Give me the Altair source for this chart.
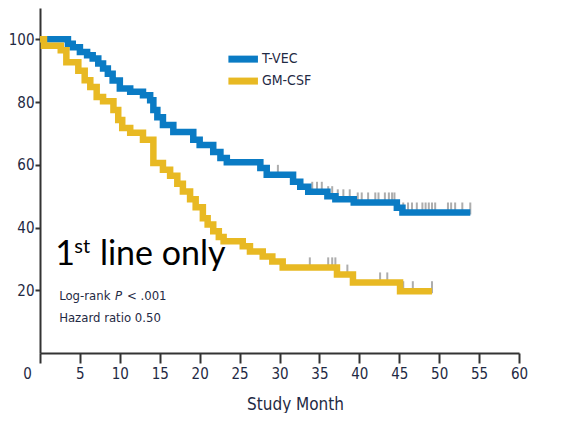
import altair as alt
import pandas as pd

# ---- data ----
series_names = ["T-VEC", "GM-CSF"]
series_colors = ["#0a7bc4", "#e8b923"]

tvec_month = [0, 3.5, 4.1, 5.0, 5.9, 6.6, 7.3, 7.9, 8.5, 9.1, 10.0, 11.3, 12.9, 13.8, 14.2,
              14.7, 15.4, 16.7, 19.2, 20.0, 21.7, 22.6, 23.4, 27.6, 28.4, 31.7, 32.6, 33.6,
              36.0, 37.0, 39.3, 44.7, 45.4, 53.9]
tvec_surv = [100, 98.6, 97.5, 96, 94.9, 93.9, 92.3, 90.7, 89, 86.9, 84.3, 83.3, 82.2, 80.6, 77.5,
             75.2, 72.7, 70.5, 68, 66.3, 64.1, 62.2, 60.8, 59, 56.8, 54.6, 53, 51.4,
             50, 49, 48, 46.3, 44.8, 44.8]

gm_month = [0, 0.5, 2.6, 3.3, 4.8, 5.6, 6.3, 7.1, 7.9, 9.2, 9.8, 10.3, 11.3, 12.9, 14.2, 15.4,
            16.3, 17.2, 17.9, 18.8, 19.5, 20.4, 21.0, 21.7, 22.4, 23.0, 25.4, 26.3, 27.9, 29.1,
            30.4, 37.2, 39.2, 45.1, 49.1]
gm_surv = [100, 98, 96.5, 92.7, 90, 87, 84.8, 81.6, 80.3, 77.5, 74.3, 71.7, 70.2, 68, 60.6, 58.4,
           56.5, 54, 51.5, 49, 46.5, 43, 41, 38.8, 37, 35.6, 34, 32.4, 30.8, 29.2,
           27.3, 25, 22.5, 19.7, 19.7]

tvec_cens_month = [29.8, 34.1, 34.7, 35.3, 36.1, 36.6, 37.3, 38.0, 38.8, 39.8, 40.3, 41.1, 42.0,
                   42.4, 43.2, 43.7, 44.1, 44.4, 45.5, 46.1, 46.6, 47.2, 47.9, 48.3, 48.7, 49.1,
                   49.5, 51.1, 51.5, 52.0, 52.9, 53.9]
tvec_cens_surv = [56.8, 51.4, 51.4, 51.4, 50, 50, 49, 49, 49, 48, 48, 48, 48,
                  48, 48, 48, 48, 48, 44.8, 44.8, 44.8, 44.8, 44.8, 44.8, 44.8, 44.8,
                  44.8, 44.8, 44.8, 44.8, 44.8, 44.8]
gm_cens_month = [33.8, 36.1, 36.6, 37.0, 38.5, 42.6, 43.5, 45.5, 46.7, 49.1]
gm_cens_surv = [27.3, 27.3, 27.3, 27.3, 25, 22.5, 22.5, 19.7, 19.7, 19.7]

x_ticks = [0, 5, 10, 15, 20, 25, 30, 35, 40, 45, 50, 55, 60]
y_ticks = [20, 40, 60, 80, 100]

# legend placement (in axis units)
legend_x0 = [23.6, 23.6]
legend_x1 = [27.3, 27.3]
legend_y = [93.7, 86.7]
legend_label_x = [27.8, 27.8]

# annotation texts (month, percent anchors)
ann_text = ["1", "st", "line only"]
ann_month = [1.9, 4.3, 7.5]
ann_pct = [28.0, 31.8, 28.0]
ann_size = [34, 20, 34]

stat_text = ["Log-rank", "< .001", "Hazard ratio 0.50"]
stat_month = [2.4, 10.9, 2.4]
stat_pct = [17.0, 17.0, 10.0]
ital_text = ["P"]
ital_month = [9.4]
ital_pct = [17.0]

# ---- tables ----
curves = pd.concat([
    pd.DataFrame({"month": tvec_month, "surv": tvec_surv, "arm": "T-VEC"}),
    pd.DataFrame({"month": gm_month, "surv": gm_surv, "arm": "GM-CSF"}),
])
cens = pd.concat([
    pd.DataFrame({"month": tvec_cens_month, "surv": tvec_cens_surv}),
    pd.DataFrame({"month": gm_cens_month, "surv": gm_cens_surv}),
])
leg = pd.DataFrame({"arm": series_names, "x0": legend_x0, "x1": legend_x1, "y": legend_y,
                    "lx": legend_label_x})
ann = pd.DataFrame({"t": ann_text, "month": ann_month, "pct": ann_pct, "size": ann_size})
stats = pd.DataFrame({"t": stat_text, "month": stat_month, "pct": stat_pct})
ital = pd.DataFrame({"t": ital_text, "month": ital_month, "pct": ital_pct})

AXIS_FONT = "DejaVu Sans Condensed, Roboto, sans-serif"
TXT = "#1f2a44"

xscale = alt.Scale(domain=[0, 60], nice=False, zero=False)
yscale = alt.Scale(domain=[0, 110], nice=False)
cscale = alt.Scale(domain=series_names, range=series_colors)

x_axis = alt.Axis(
    values=x_ticks, title="Study Month", grid=False, domainColor="#333", domainWidth=2,
    tickColor="#333", tickWidth=2, tickSize=10, labelFont=AXIS_FONT, labelFontSize=15,
    labelColor=TXT, labelPadding=3, labelOverlap=False, labelFlush=False,
    titleFont=AXIS_FONT, titleFontSize=17, titleFontWeight="normal",
    titleColor=TXT, titleX=255, titleY=56, titleBaseline="alphabetic",
    labelOffset=alt.ExprRef("datum.value === 0 ? -13 : 0"))
y_axis = alt.Axis(
    values=y_ticks, title=None, grid=False, domainColor="#333", domainWidth=2,
    tickColor="#333", tickWidth=2, tickSize=5, labelFont=AXIS_FONT, labelFontSize=15,
    labelColor=TXT, labelPadding=1, labelOverlap=False)


def X(field):
    return alt.X(field, scale=xscale, axis=x_axis, title="Study Month")


def Y(field):
    return alt.Y(field, scale=yscale, axis=y_axis, title=None)


ticks = alt.Chart(cens).mark_tick(orient="vertical", color="#8a8a8a", size=12, thickness=2,
                                   yOffset=-4).encode(x=X("month:Q"), y=Y("surv:Q"))
lines = alt.Chart(curves).mark_line(interpolate="step-after", strokeWidth=6.5).encode(
    x=X("month:Q"), y=Y("surv:Q"),
    color=alt.Color("arm:N", scale=cscale, legend=None),
    order=alt.Order("month:Q"))

leg_lines = alt.Chart(leg).mark_rule(strokeWidth=7).encode(
    x=X("x0:Q"), x2="x1:Q", y=Y("y:Q"),
    color=alt.Color("arm:N", scale=cscale, legend=None))
leg_text = alt.Chart(leg).mark_text(align="left", baseline="middle", font=AXIS_FONT,
                                    fontSize=14, color=TXT).encode(
    x=X("lx:Q"), y=Y("y:Q"), text="arm:N")

ann_chart = alt.Chart(ann).mark_text(align="left", baseline="alphabetic", font="Lato",
                                     color="black").encode(
    x=X("month:Q"), y=Y("pct:Q"), text="t:N",
    size=alt.Size("size:Q", scale=None, legend=None))
stat_chart = alt.Chart(stats).mark_text(align="left", baseline="alphabetic", font=AXIS_FONT,
                                        fontSize=13, color=TXT).encode(
    x=X("month:Q"), y=Y("pct:Q"), text="t:N")
ital_chart = alt.Chart(ital).mark_text(align="left", baseline="alphabetic", font=AXIS_FONT,
                                       fontSize=13, fontStyle="italic", color=TXT).encode(
    x=X("month:Q"), y=Y("pct:Q"), text="t:N")

chart = alt.layer(ticks, lines, leg_lines, leg_text, ann_chart, stat_chart, ital_chart).properties(
    width=479, height=345,
    background="white",
    autosize=alt.AutoSizeParams(type="none"),
    padding={"left": 32, "top": 0, "right": 20, "bottom": 60},
).configure_view(stroke=None)

chart.save("out.html", embed_options={"renderer": "svg", "actions": False})
